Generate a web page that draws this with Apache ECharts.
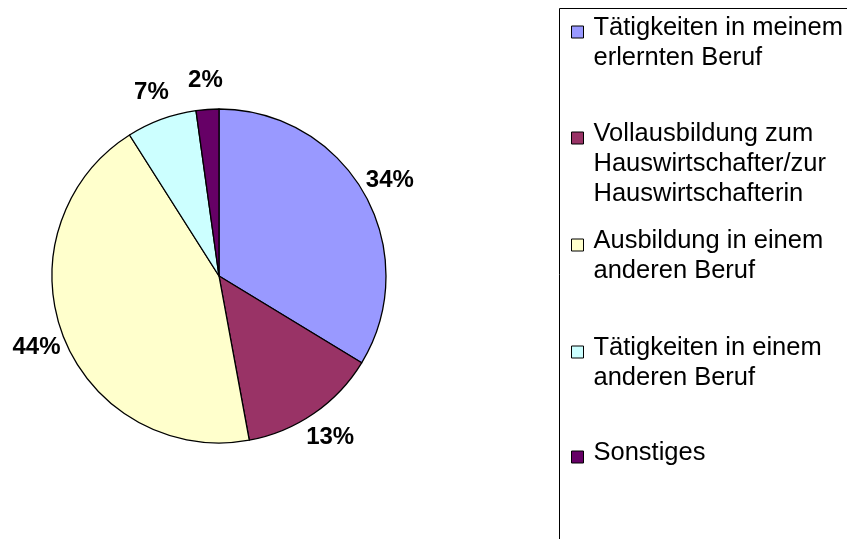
<!DOCTYPE html>
<html>
<head>
<meta charset="utf-8">
<script src="https://cdn.jsdelivr.net/npm/echarts@6/dist/echarts.min.js"></script>
<style>html,body{margin:0;padding:0;background:#fff}#c{width:847px;height:539px}</style>
</head>
<body>
<div id="c"></div>
<script>
var categories = [
  'Tätigkeiten in meinem\nerlernten Beruf',
  'Vollausbildung zum\nHauswirtschafter/zur\nHauswirtschafterin',
  'Ausbildung in einem\nanderen Beruf',
  'Tätigkeiten in einem\nanderen Beruf',
  'Sonstiges'
];
var values = [33.7, 13.4, 43.9, 6.8, 2.2];
var colors = ['#9999FF', '#993366', '#FFFFCC', '#CCFFFF', '#660066'];
var legendIconCenters = [32, 138, 245, 352, 457];

var FONT = "'Liberation Sans', Arial, sans-serif";
var LH = 30;
var SHIFT = 8;

var legends = categories.map(function (name, i) {
  var n = name.split('\n').length;
  var H = (2 * n - 1) * LH + SHIFT;
  return {
    data: [name],
    orient: 'vertical',
    left: 571,
    top: legendIconCenters[i] - H / 2,
    padding: 0,
    icon: 'rect',
    itemWidth: 12,
    itemHeight: 12,
    selectedMode: false,
    itemStyle: { borderColor: '#000', borderWidth: 1 },
    formatter: function (nm) {
      var k = nm.split('\n').length;
      var pre = '';
      for (var j = 0; j < k - 1; j++) pre += ' \n';
      return pre + nm + '\n{s| }';
    },
    textStyle: {
      fontFamily: FONT, fontSize: 25.5, color: '#000',
      lineHeight: LH, padding: [0, 0, 0, 5],
      rich: { s: { fontSize: 1, lineHeight: SHIFT } }
    }
  };
});

var chart = echarts.init(document.getElementById('c'), null, { renderer: 'canvas' });
chart.setOption({
  animation: false,
  backgroundColor: '#fff',
  color: colors,
  legend: legends,
  graphic: [{
    type: 'rect', silent: true, z: -1,
    shape: { x: 559.5, y: 8.5, width: 400, height: 600 },
    style: { fill: 'none', stroke: '#000', lineWidth: 1 }
  }],
  series: [{
    type: 'pie',
    center: [219, 276],
    radius: 167,
    startAngle: 90,
    clockwise: true,
    avoidLabelOverlap: false,
    data: categories.map(function (c, i) { return { name: c, value: values[i] }; }),
    itemStyle: { borderColor: '#000', borderWidth: 1.3 },
    label: {
      show: true,
      position: 'outside',
      formatter: function (p) { return Math.round(p.percent) + '%'; },
      fontFamily: FONT, fontSize: 24, fontWeight: 'bold', color: '#000'
    },
    labelLine: { show: true, length: 29, length2: 0, lineStyle: { opacity: 0 } },
    labelLayout: function (params) {
      var pts = params.labelLinePoints;
      if (!pts) return {};
      return { x: pts[1][0], y: pts[1][1], align: 'center', verticalAlign: 'middle' };
    },
    emphasis: { disabled: true }
  }]
});
</script>
</body>
</html>
